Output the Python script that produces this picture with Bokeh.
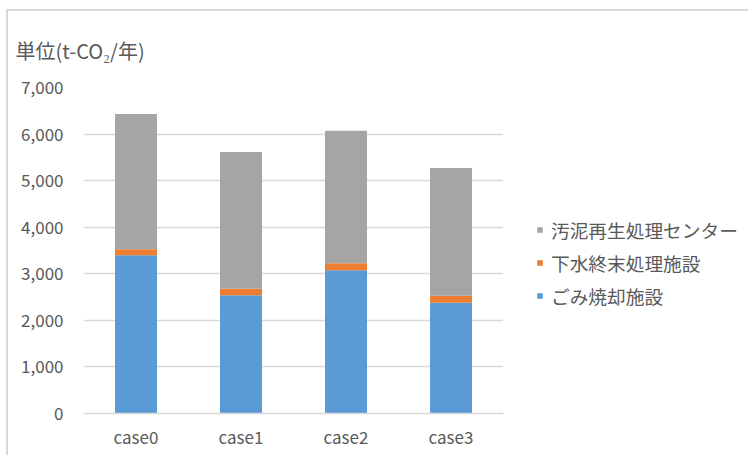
from bokeh.plotting import figure
from bokeh.layouts import row
from bokeh.models import (FactorRange, Range1d, Legend, LegendItem, Title,
                          NumeralTickFormatter, FixedTicker)
from bokeh.embed import file_html
from bokeh.resources import INLINE

# CO2 emissions per case, stacked by facility (t-CO2/year)
cases = ["case0", "case1", "case2", "case3"]
incineration = [3400, 2540, 3075, 2380]      # ごみ焼却施設
sewage = [127, 140, 151, 150]                # 下水終末処理施設
sludge = [2903, 2933, 2844, 2739]            # 汚泥再生処理センター

series_names = ["ごみ焼却施設", "下水終末処理施設", "汚泥再生処理センター"]
series_keys = ["incineration", "sewage", "sludge"]
colors = ["#5B9BD5", "#ED7D31", "#A5A5A5"]

y_ticks = [0, 1000, 2000, 3000, 4000, 5000, 6000, 7000]

FONT = "Noto Sans CJK JP"
TEXT = "#595959"
GRID = "#D9D9D9"

# ---- bar chart -------------------------------------------------------------
p = figure(width=495, height=444,
           x_range=FactorRange(*cases, range_padding=0),
           y_range=Range1d(0, 7000),
           output_backend="svg", toolbar_location=None,
           min_border_left=75, min_border_right=0,
           min_border_top=76, min_border_bottom=42)
p.outline_line_color = None
p.background_fill_color = "white"
p.border_fill_color = "white"

data = dict(cases=cases, incineration=incineration, sewage=sewage, sludge=sludge)
renderers = p.vbar_stack(series_keys, x="cases", width=0.4, color=colors,
                         line_color=None, source=data)

p.yaxis.ticker = FixedTicker(ticks=y_ticks)
p.yaxis.formatter = NumeralTickFormatter(format="0,0")
p.yaxis.axis_line_color = None
p.yaxis.major_tick_line_color = None
p.yaxis.minor_tick_line_color = None
p.yaxis.major_label_standoff = 14
p.yaxis.major_label_text_font = FONT
p.yaxis.major_label_text_font_size = "17px"
p.yaxis.major_label_text_color = TEXT

p.xaxis.axis_line_color = GRID
p.xaxis.axis_line_width = 1.5
p.xaxis.major_tick_line_color = None
p.xaxis.minor_tick_line_color = None
p.xaxis.major_label_standoff = 4
p.xaxis.major_label_text_font = FONT
p.xaxis.major_label_text_font_size = "17px"
p.xaxis.major_label_text_color = TEXT

p.xgrid.grid_line_color = None
p.ygrid.grid_line_color = GRID
p.ygrid.grid_line_width = 1.5

# unit label above the value axis
p.add_layout(Title(text="単位(t-CO₂/年)", align="left", offset=-68,
                   text_font=FONT, text_font_size="20px", text_color=TEXT,
                   text_font_style="normal", standoff=45), "above")

# ---- legend panel ----------------------------------------------------------
lg = figure(width=245, height=444, x_range=Range1d(0, 1), y_range=Range1d(0, 1),
            output_backend="svg", toolbar_location=None,
            min_border=0, min_border_left=0, min_border_right=0,
            min_border_top=0, min_border_bottom=0)
lg.axis.visible = False
lg.grid.visible = False
lg.outline_line_color = None
lg.background_fill_color = "white"
lg.border_fill_color = "white"

# swatch renderers sit outside the visible range; they only feed the legend
swatches = [lg.vbar(x=[-5], top=[-5], bottom=[-6], width=0.1, color=c,
                    line_color=None) for c in colors]

items = [LegendItem(label=name, renderers=[r])
         for name, r in zip(series_names, swatches)][::-1]
legend = Legend(items=items, location=(33, 101),
                glyph_width=7, glyph_height=7, label_standoff=8,
                label_height=33, spacing=0, padding=0, margin=0,
                border_line_color=None, background_fill_alpha=0,
                label_text_font=FONT, label_text_font_size="18.7px",
                label_text_color=TEXT)
lg.add_layout(legend, "center")

layout = row(p, lg, margin=(9, 0, 0, 6),
             styles={"border-left": "2px solid #D9D9D9",
                     "border-top": "2px solid #D9D9D9"})

open("out.html", "w").write(file_html(layout, INLINE))
